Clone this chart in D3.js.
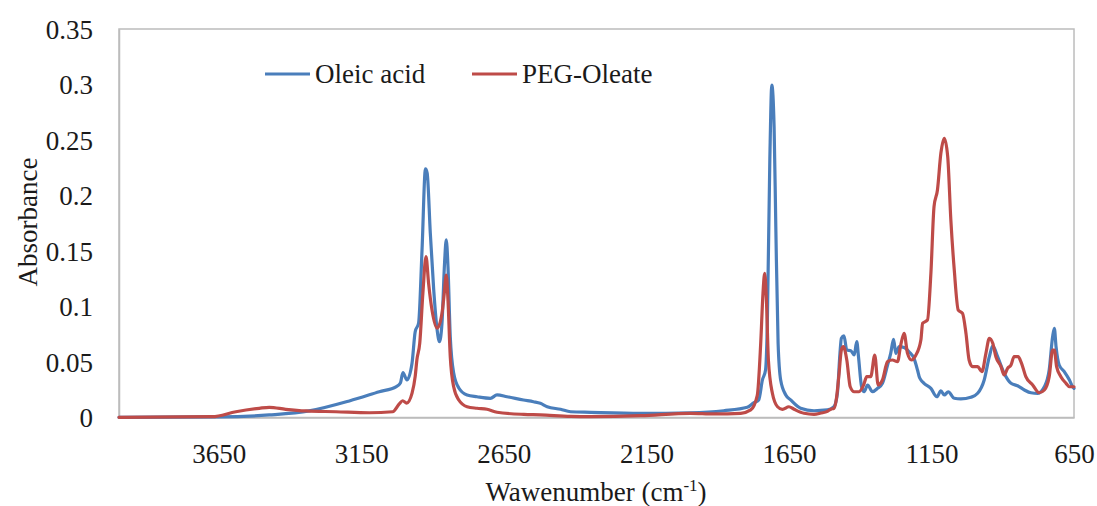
<!DOCTYPE html>
<html>
<head>
<meta charset="utf-8">
<script src="https://cdn.jsdelivr.net/npm/d3@7/dist/d3.min.js"></script>
<style>
html,body{margin:0;padding:0;background:#fff;}
svg text{font-family:"Liberation Serif","Times New Roman",serif;fill:#1a1a1a;}
</style>
</head>
<body>
<svg id="chart" width="1097" height="506"></svg>
<script>
// Wavenumber (cm-1) / absorbance pairs
const oleicWn = [4000,3649,3473,3333,3192,3087,3027,3013,3004,2990,2972,2961,2949,2937,2925,2919,2908,2896,2884,2876,2867,2858,2852,2846,2838,2826,2808,2779,2744,2697,2674,2639,2581,2546,2522,2498,2451,2416,2346,2170,1995,1879,1796,1774,1756,1743,1732,1726,1717,1710,1702,1696,1688,1679,1661,1644,1609,1562,1515,1492,1480,1471,1466,1457,1447,1433,1421,1412,1406,1395,1386,1374,1357,1339,1322,1304,1293,1283,1275,1263,1246,1228,1211,1199,1193,1187,1176,1152,1131,1117,1105,1091,1070,1047,1012,988,965,947,935,918,895,871,848,824,801,777,754,737,725,719,713,702,684,666,655,650];
const oleicAbs = [0.0002,0.0005,0.0023,0.0059,0.0149,0.0232,0.0279,0.0311,0.0404,0.0338,0.0491,0.0773,0.0851,0.1509,0.224,0.2203,0.1662,0.1149,0.0788,0.0683,0.0851,0.1392,0.160,0.1359,0.0728,0.0401,0.0266,0.0203,0.0187,0.0173,0.0203,0.0187,0.0158,0.0142,0.0128,0.0097,0.0074,0.0052,0.0047,0.0038,0.0043,0.0061,0.0092,0.0131,0.0158,0.0338,0.0428,0.0818,0.232,0.2995,0.262,0.1719,0.0671,0.0338,0.0203,0.0158,0.0083,0.0061,0.0068,0.0097,0.0218,0.0578,0.0714,0.0735,0.0608,0.0602,0.0563,0.0683,0.0548,0.0277,0.0232,0.0293,0.0232,0.0263,0.0308,0.0473,0.0578,0.0705,0.0578,0.0638,0.0630,0.0590,0.0530,0.0428,0.0368,0.0338,0.0308,0.0263,0.0187,0.0240,0.0203,0.0232,0.0173,0.0167,0.0182,0.0218,0.0338,0.0548,0.0645,0.0548,0.0398,0.0308,0.0286,0.0248,0.0223,0.0218,0.0277,0.0428,0.0728,0.0804,0.0638,0.0473,0.0413,0.0338,0.0277,0.0263];

const pegWn = [4000,3673,3590,3508,3473,3415,3344,3239,3122,3040,3017,3005,2991,2972,2961,2955,2945,2934,2923,2914,2902,2884,2867,2859,2852,2846,2838,2826,2808,2779,2744,2709,2674,2580,2522,2416,2346,2170,1995,1913,1819,1784,1761,1749,1741,1735,1729,1722,1708,1690,1673,1650,1632,1597,1562,1538,1515,1503,1492,1484,1474,1466,1459,1447,1435,1421,1404,1388,1377,1363,1349,1337,1322,1304,1287,1269,1258,1246,1234,1220,1205,1187,1181,1164,1152,1141,1129,1117,1105,1093,1082,1070,1056,1041,1029,1018,1006,988,973,959,947,935,924,906,895,883,871,860,846,834,819,795,772,754,737,725,719,711,696,678,666,650];
const pegAbs = [0.0002,0.0007,0.0052,0.0083,0.0092,0.0074,0.0059,0.0052,0.0043,0.0052,0.0122,0.0151,0.0130,0.0220,0.0370,0.0520,0.0670,0.1120,0.1450,0.1209,0.0968,0.0804,0.0939,0.1119,0.1284,0.1059,0.0548,0.0277,0.0158,0.0097,0.0083,0.0074,0.0047,0.0028,0.0024,0.0010,0.0008,0.0016,0.0038,0.0032,0.0038,0.0068,0.0200,0.0668,0.1119,0.1299,0.1059,0.0518,0.0218,0.0097,0.0074,0.0097,0.0074,0.0038,0.0029,0.0040,0.0055,0.0075,0.0083,0.0160,0.0398,0.0608,0.0638,0.0518,0.0277,0.0232,0.0232,0.0293,0.0368,0.0368,0.0563,0.0293,0.0338,0.0503,0.0518,0.0503,0.0650,0.0759,0.0578,0.0518,0.0560,0.0700,0.0849,0.0878,0.1299,0.1899,0.2050,0.2380,0.2515,0.2350,0.1779,0.1329,0.0968,0.0939,0.0759,0.0518,0.0458,0.0458,0.0413,0.0578,0.0714,0.0668,0.0548,0.0458,0.0383,0.0443,0.0473,0.0548,0.0548,0.0488,0.0368,0.0293,0.0223,0.0248,0.0368,0.0608,0.0608,0.0458,0.0368,0.0308,0.0277,0.0277];

const xTicks = [3650,3150,2650,2150,1650,1150,650];
const yTicks = [0,0.05,0.1,0.15,0.2,0.25,0.3,0.35];
const seriesNames = ["Oleic acid","PEG-Oleate"];
const seriesColors = ["#4a7ebb","#be4b48"];

const FONT = '"Liberation Serif","Times New Roman",serif';
const svg = d3.select("#chart");
const plotLeft = 119, plotRight = 1074, plotTop = 29, plotBottom = 417.5;

const x = d3.scaleLinear().domain([4000,650]).range([plotLeft,plotRight]);
const y = d3.scaleLinear().domain([0,0.35]).range([plotBottom,plotTop]);

// plot area border
svg.append("rect")
  .attr("x",plotLeft).attr("y",plotTop)
  .attr("width",plotRight-plotLeft).attr("height",plotBottom-plotTop)
  .attr("fill","none").attr("stroke","#bcbcbc").attr("stroke-width",1.5);

// axes (labels only, no tick marks)
const xAxis = d3.axisBottom(x).tickValues(xTicks).tickSize(0).tickPadding(0).tickFormat(d3.format("d"));
const gx = svg.append("g").attr("transform",`translate(0,${plotBottom})`).call(xAxis);
gx.select(".domain").attr("stroke","#bcbcbc").attr("stroke-width",1.5);
gx.selectAll("text").attr("dy",0).attr("y",45).attr("fill","#1a1a1a")
  .style("font-family",FONT).style("font-size","27px");

const yAxis = d3.axisLeft(y).tickValues(yTicks).tickSize(0).tickPadding(0).tickFormat(d => d===0 ? "0" : String(+d.toFixed(2)));
const gy = svg.append("g").attr("transform",`translate(${plotLeft},0)`).call(yAxis);
gy.select(".domain").attr("stroke","#bcbcbc").attr("stroke-width",1.5);
gy.selectAll("text").attr("x",-26).attr("dy","0.34em").attr("fill","#1a1a1a")
  .style("font-family",FONT).style("font-size","27px");

// lines
const line = d3.line().x(d => x(d[0])).y(d => y(d[1])).curve(d3.curveMonotoneX);
const series = [
  d3.zip(oleicWn, oleicAbs),
  d3.zip(pegWn, pegAbs)
];
series.forEach((s,i) => {
  svg.append("path").datum(s)
    .attr("fill","none").attr("stroke",seriesColors[i])
    .attr("stroke-width",3.2).attr("stroke-linejoin","round").attr("stroke-linecap","round")
    .attr("d",line);
});

// legend
const legendX = [265,472];
seriesNames.forEach((n,i) => {
  svg.append("line").attr("x1",legendX[i]).attr("x2",legendX[i]+45)
    .attr("y1",74).attr("y2",74).attr("stroke",seriesColors[i]).attr("stroke-width",3.2);
  svg.append("text").attr("x",legendX[i]+50).attr("y",83)
    .style("font-family",FONT).style("font-size","27px").text(n);
});

// axis titles
const xt = svg.append("text").attr("x",596).attr("y",501).attr("text-anchor","middle")
  .style("font-family",FONT).style("font-size","27px");
xt.append("tspan").text("Wawenumber (cm");
xt.append("tspan").attr("dy",-10).style("font-size","17px").text("-1");
xt.append("tspan").attr("dy",10).text(")");

svg.append("text").attr("transform","translate(37,222) rotate(-90)")
  .attr("text-anchor","middle").style("font-family",FONT).style("font-size","27px").text("Absorbance");
</script>
</body>
</html>
